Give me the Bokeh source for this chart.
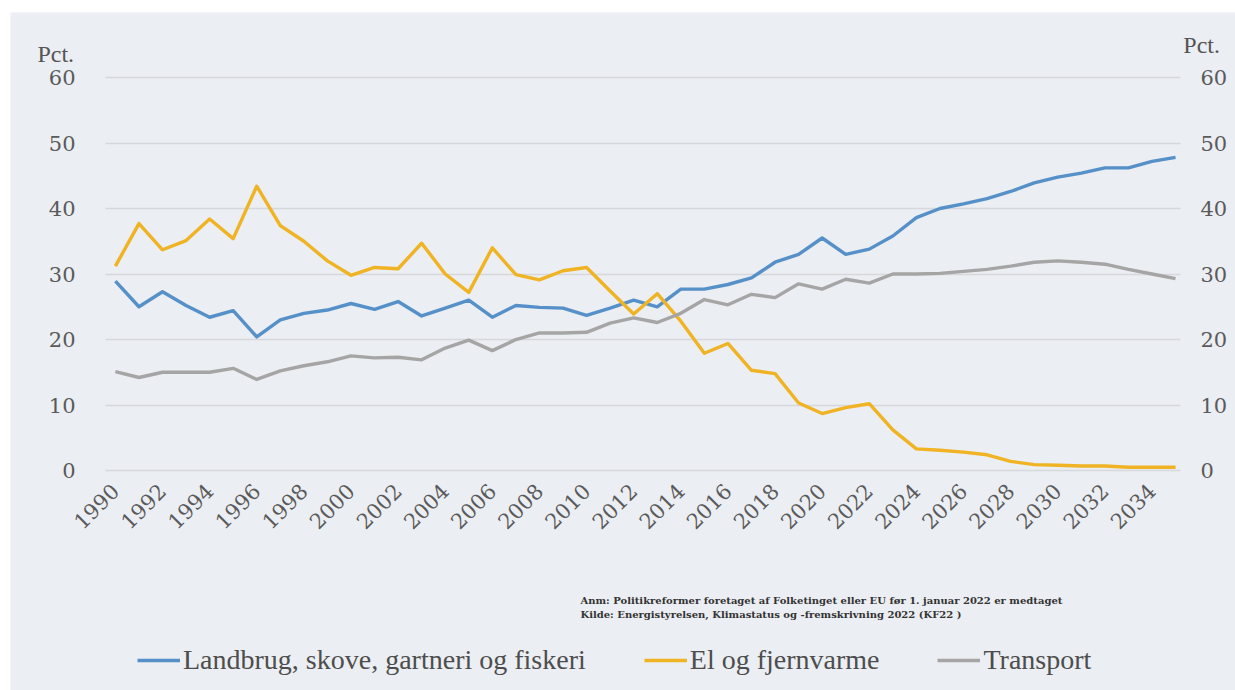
import math
from bokeh.plotting import figure
from bokeh.models import LinearAxis, Range1d, Legend, LegendItem, Label, FixedTicker
from bokeh.embed import file_html
from bokeh.resources import INLINE

years = list(range(1990, 2036))
landbrug = [28.9, 25.0, 27.3, 25.2, 23.4, 24.4, 20.4, 23.0, 24.0, 24.5, 25.5, 24.6, 25.8, 23.6, 24.8, 26.0,
            23.4, 25.2, 24.9, 24.8, 23.7, 24.8, 26.0, 25.0, 27.7, 27.7, 28.4, 29.4, 31.8, 33.0, 35.5, 33.0,
            33.8, 35.8, 38.6, 40.0, 40.7, 41.5, 42.6, 43.9, 44.8, 45.4, 46.2, 46.2, 47.2, 47.8]
el = [31.2, 37.7, 33.7, 35.1, 38.4, 35.4, 43.4, 37.4, 35.0, 32.0, 29.8, 31.0, 30.8, 34.7, 30.0, 27.2,
      34.0, 29.9, 29.1, 30.5, 31.0, 27.4, 23.9, 27.0, 22.8, 17.9, 19.4, 15.3, 14.8, 10.3, 8.7, 9.6,
      10.2, 6.2, 3.3, 3.1, 2.8, 2.4, 1.4, 0.9, 0.8, 0.7, 0.7, 0.5, 0.5, 0.5]
transport = [15.1, 14.2, 15.0, 15.0, 15.0, 15.6, 13.9, 15.2, 16.0, 16.6, 17.5, 17.2, 17.3, 16.9, 18.7, 19.9,
             18.3, 20.0, 21.0, 21.0, 21.1, 22.5, 23.3, 22.6, 24.0, 26.1, 25.3, 26.9, 26.4, 28.5, 27.7, 29.2,
             28.6, 30.0, 30.0, 30.1, 30.4, 30.7, 31.2, 31.8, 32.0, 31.8, 31.5, 30.7, 30.0, 29.3]
series_names = ["Landbrug, skove, gartneri og fiskeri", "El og fjernvarme", "Transport"]
x_ticks = list(range(1990, 2035, 2))
y_ticks = [0, 10, 20, 30, 40, 50, 60]
unit_label = "Pct."
note_lines = ["Anm: Politikreformer foretaget af Folketinget eller EU før 1. januar 2022 er medtaget",
              "Kilde: Energistyrelsen, Klimastatus og -fremskrivning 2022 (KF22 )"]

BG = "#ebeef2"
COLORS = ["#5590c8", "#f0b323", "#a5a5a5"]
AX_FONT = "DejaVu Serif"
AX_COLOR = "#5a5a5a"

# plotting area edges (data units) inside a full-canvas frame
X0, X1 = 1989.58, 2035.21
Y0 = -0.76

p = figure(width=1225, height=678, output_backend="svg", toolbar_location=None,
           x_range=Range1d(1985.548, 2037.545), y_range=Range1d(-33.584, 69.925),
           background_fill_color=BG, border_fill_color=BG, outline_line_color=None,
           min_border=0)
p.margin = (12, 0, 0, 10)

renderers = []
for vals, col in zip([landbrug, el, transport], COLORS):
    renderers.append(p.line(years, vals, line_color=col, line_width=3.4, line_join="round"))

p.xgrid.visible = False
p.ygrid.grid_line_color = "#d5d8dc"
p.ygrid.grid_line_width = 1.5
p.ygrid.ticker = FixedTicker(ticks=y_ticks)
if "cross_bounds" in p.ygrid[0].properties():
    p.ygrid.cross_bounds = (X0, X1)


def style_axis(ax, size):
    ax.axis_line_color = None
    ax.major_tick_line_color = None
    ax.minor_tick_line_color = None
    ax.major_label_text_font = AX_FONT
    ax.major_label_text_color = AX_COLOR
    ax.major_label_text_font_size = size


p.yaxis.ticker = FixedTicker(ticks=y_ticks)
style_axis(p.yaxis[0], "21px")
p.yaxis.major_label_standoff = 24
p.yaxis.fixed_location = X0

ry = LinearAxis(ticker=FixedTicker(ticks=y_ticks), fixed_location=X1)
style_axis(ry, "21px")
ry.major_label_standoff = 14
p.add_layout(ry, "right")

p.xaxis.ticker = FixedTicker(ticks=x_ticks)
style_axis(p.xaxis[0], "21px")
p.xaxis.major_label_orientation = math.pi / 4
p.xaxis.major_label_standoff = 6
p.xaxis.fixed_location = Y0

# unit labels
p.add_layout(Label(x=1986.69, y=63.6, text=unit_label, text_font="Liberation Serif", text_font_size="24px",
                   text_color="#555555", text_align="left", text_baseline="alphabetic"))
p.add_layout(Label(x=2035.33, y=64.9, text=unit_label, text_font="Liberation Serif", text_font_size="24px",
                   text_color="#555555", text_align="left", text_baseline="alphabetic"))

# notes
for i, line in enumerate(note_lines):
    p.add_layout(Label(x=2009.74, y=-19.85 - i * 2.13, text=line, text_font="DejaVu Serif",
                       text_font_style="bold", text_font_size="10px", text_color="#333333",
                       text_align="left", text_baseline="alphabetic"))

legend = Legend(items=[LegendItem(label=n, renderers=[r]) for n, r in zip(series_names, renderers)],
                orientation="horizontal", location=(127, 14), background_fill_alpha=0,
                border_line_color=None, padding=0, margin=0, spacing=58,
                label_text_font="Liberation Serif", label_text_font_size="28px",
                label_text_color="#4d4d4d", glyph_width=43, glyph_height=28, label_standoff=3)
p.add_layout(legend, "center")

open("out.html", "w").write(file_html(p, INLINE))
